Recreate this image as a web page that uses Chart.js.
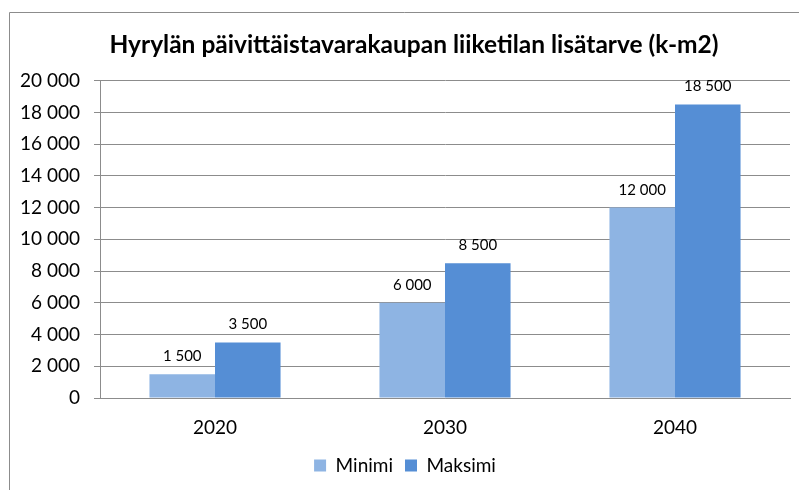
<!DOCTYPE html>
<html>
<head>
<meta charset="utf-8">
<script src="https://cdn.jsdelivr.net/npm/chart.js@4"></script>
<style>
html,body{margin:0;padding:0;background:#fff;}
#wrap{position:relative;width:799px;height:490px;}
</style>
</head>
<body>
<div id="wrap"><canvas id="c" width="799" height="490"></canvas></div>
<script>
const categories = ['2020', '2030', '2040'];
const minimi = [1500, 6000, 12000];
const maksimi = [3500, 8500, 18500];
const seriesNames = ['Minimi', 'Maksimi'];
const titleText = 'Hyrylän päivittäistavarakaupan liiketilan lisätarve (k-m2)';

const fmt = v => String(v).replace(/\B(?=(\d{3})+(?!\d))/g, '\u00a0');
const FONT = 'Lato, "Open Sans", sans-serif';

const framePlugin = {
  id: 'frame',
  beforeDraw(chart) {
    const ctx = chart.ctx;
    ctx.save();
    ctx.fillStyle = '#fff';
    ctx.fillRect(0, 0, chart.width, chart.height);
    ctx.strokeStyle = '#8c8c8c';
    ctx.lineWidth = 1;
    ctx.beginPath();
    ctx.moveTo(9.5, chart.height);
    ctx.lineTo(9.5, 12.5);
    ctx.lineTo(chart.width, 12.5);
    ctx.stroke();
    ctx.restore();
  }
};

const titleShift = {
  id: 'titleShift',
  afterLayout(chart) {
    if (chart.titleBlock) { chart.titleBlock.left += 18; }
  }
};

const labelPlugin = {
  id: 'barLabels',
  afterDatasetsDraw(chart) {
    const ctx = chart.ctx;
    ctx.save();
    ctx.font = '15px ' + FONT;
    ctx.fillStyle = '#000';
    ctx.textAlign = 'center';
    ctx.textBaseline = 'alphabetic';
    chart.data.datasets.forEach((ds, i) => {
      chart.getDatasetMeta(i).data.forEach((bar, j) => {
        ctx.fillText(fmt(ds.data[j]), bar.x, bar.y - 13);
      });
    });
    ctx.restore();
  }
};

new Chart(document.getElementById('c'), {
  type: 'bar',
  data: {
    labels: categories,
    datasets: [
      { label: seriesNames[0], data: minimi, backgroundColor: '#8eb4e3' },
      { label: seriesNames[1], data: maksimi, backgroundColor: '#558ed5' }
    ]
  },
  options: {
    responsive: false,
    animation: false,
    layout: { padding: { left: 20, right: 9, top: 31, bottom: 5 } },
    datasets: { bar: { categoryPercentage: 0.57, barPercentage: 1 } },
    plugins: {
      title: {
        display: true,
        text: titleText,
        color: '#000',
        font: { family: FONT, size: 24.5, weight: 'bold', lineHeight: 1.13 },
        padding: { top: 0, bottom: 22 }
      },
      legend: {
        position: 'bottom',
        labels: {
          color: '#000',
          font: { family: FONT, size: 19 },
          boxWidth: 12,
          boxHeight: 12,
          padding: 12
        }
      },
      tooltip: { enabled: false }
    },
    scales: {
      x: {
        grid: { display: false, drawTicks: false },
        border: { color: '#8c8c8c' },
        ticks: { color: '#000', font: { family: FONT, size: 19 }, padding: 18 },
        afterFit: s => { s.height = 46; }
      },
      y: {
        min: 0,
        max: 20000,
        ticks: {
          stepSize: 2000,
          color: '#000',
          font: { family: FONT, size: 19 },
          padding: 14,
          callback: v => fmt(v)
        },
        grid: { color: '#8c8c8c', tickLength: 6, tickColor: '#8c8c8c' },
        border: { color: '#8c8c8c' },
        afterFit: s => { s.width = 80; }
      }
    }
  },
  plugins: [framePlugin, titleShift, labelPlugin]
});
</script>
</body>
</html>
